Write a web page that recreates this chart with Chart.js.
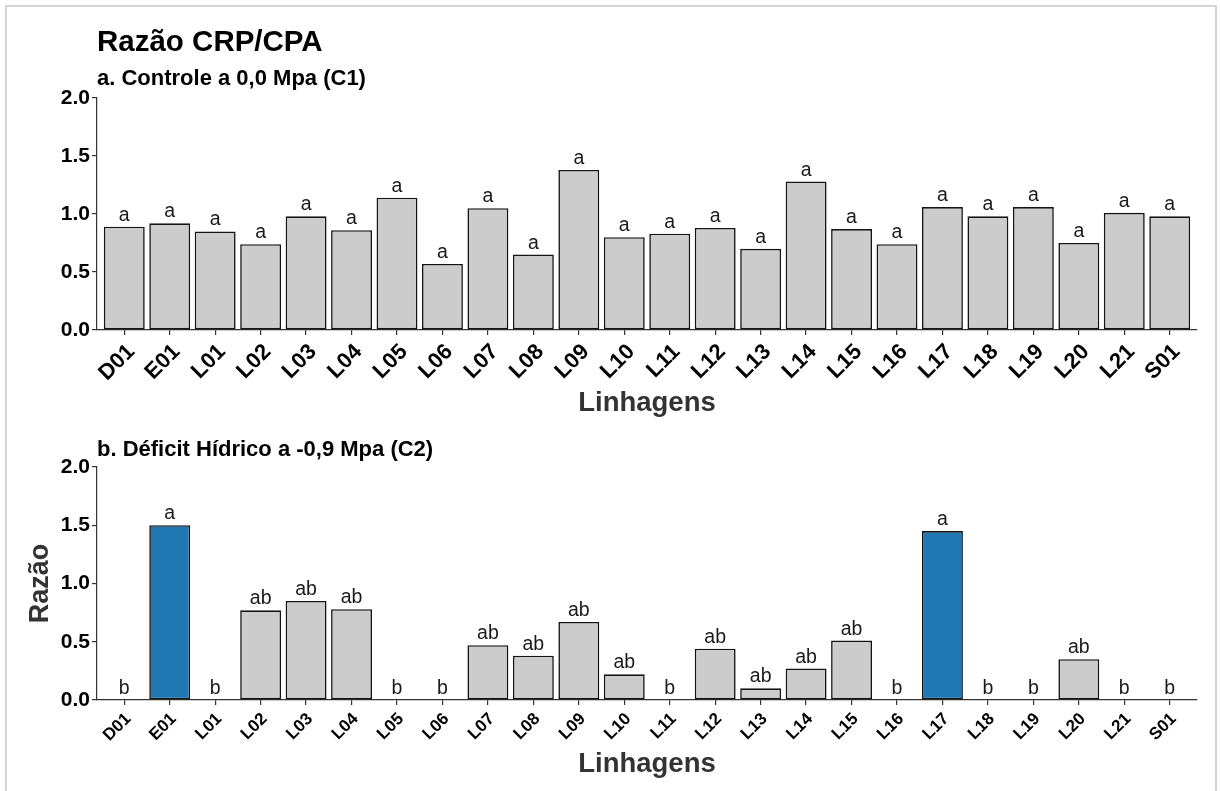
<!DOCTYPE html>
<html>
<head>
<meta charset="utf-8">
<script src="https://cdn.jsdelivr.net/npm/chart.js@4.4.1/dist/chart.umd.min.js"></script>
<style>
  html, body { margin: 0; padding: 0; background: #fff; }
  body { width: 1220px; height: 791px; position: relative; overflow: hidden;
         font-family: "Liberation Sans", Arial, sans-serif; }
  .frame { position: absolute; left: 5px; top: 5px; width: 1212px; height: 820px;
           border: 2px solid #d4d4d4; box-sizing: border-box; }
  .wrap { position: absolute; left: 0; width: 1220px; }
  #w1 { top: 0; height: 420px; }
  #w2 { top: 420px; height: 371px; }
  .txt { position: absolute; left: 97px; font-weight: bold; color: #000;
         white-space: nowrap; line-height: 1; z-index: 2; }
  #t1 { top: 26px; font-size: 29.5px; }
  #s1 { top: 67px; font-size: 22px; }
  #s2 { top: 438px; font-size: 22px; }
</style>
</head>
<body>
<div class="frame"></div>
<div class="wrap" id="w1"><canvas id="c1" width="1220" height="420"></canvas></div>
<div class="wrap" id="w2"><canvas id="c2" width="1220" height="371"></canvas></div>
<div class="txt" id="t1">Razão CRP/CPA</div>
<div class="txt" id="s1">a. Controle a 0,0 Mpa (C1)</div>
<div class="txt" id="s2">b. Déficit Hídrico a -0,9 Mpa (C2)</div>

<script>
// Linhagens avaliadas
const linhagens = ['D01','E01','L01','L02','L03','L04','L05','L06','L07','L08','L09','L10',
                   'L11','L12','L13','L14','L15','L16','L17','L18','L19','L20','L21','S01'];

// Razão CRP/CPA — controle (0,0 MPa)
const razaoC1 = [0.89, 0.92, 0.85, 0.74, 0.98, 0.86, 1.14, 0.57, 1.05, 0.65, 1.38, 0.80,
                 0.83, 0.88, 0.70, 1.28, 0.87, 0.74, 1.06, 0.98, 1.06, 0.75, 1.01, 0.98];
const letrasC1 = ['a','a','a','a','a','a','a','a','a','a','a','a',
                  'a','a','a','a','a','a','a','a','a','a','a','a'];

// Razão CRP/CPA — déficit hídrico (-0,9 MPa)
const razaoC2 = [0.00, 1.50, 0.00, 0.77, 0.85, 0.78, 0.00, 0.00, 0.47, 0.38, 0.67, 0.22,
                 0.00, 0.44, 0.10, 0.27, 0.51, 0.00, 1.45, 0.00, 0.00, 0.35, 0.00, 0.00];
const letrasC2 = ['b','a','b','ab','ab','ab','b','b','ab','ab','ab','ab',
                  'b','ab','ab','ab','ab','b','a','b','b','ab','b','b'];

// Marcas do eixo y
const yTicks = [0.0, 0.5, 1.0, 1.5, 2.0];

const FAMILY = '"Liberation Sans", Arial, sans-serif';
const AXIS = '#333333';
const GREY = '#cccccc';
const BLUE = '#1f77b4';

// Letras do teste de médias acima de cada barra
const letrasPlugin = {
  id: 'letras',
  afterDatasetsDraw(chart, args, opts) {
    const meta = chart.getDatasetMeta(0);
    const ctx = chart.ctx;
    ctx.save();
    ctx.font = `normal ${opts.size}px ${FAMILY}`;
    ctx.fillStyle = '#1a1a1a';
    ctx.textAlign = 'center';
    ctx.textBaseline = 'alphabetic';
    meta.data.forEach((bar, i) => {
      ctx.fillText(opts.letters[i], bar.x, bar.y - opts.gap);
    });
    ctx.restore();
  }
};

function painel(canvasId, valores, letras, cfg) {
  const dados = linhagens.map((_, i) => ({ x: i, y: valores[i] }));
  return new Chart(document.getElementById(canvasId), {
    type: 'bar',
    data: {
      datasets: [{
        data: dados,
        backgroundColor: letras.map(l => (cfg.destaque && l === 'a') ? BLUE : GREY),
        borderColor: '#141414',
        borderWidth: ctx => (ctx.raw && ctx.raw.y > 0 ? 1.6 : 0),
        borderSkipped: false,
        barPercentage: 0.9,
        categoryPercentage: 1.0
      }]
    },
    options: {
      responsive: false,
      animation: false,
      events: [],
      layout: { padding: { left: 0, right: 23, top: cfg.top, bottom: 0 } },
      plugins: {
        legend: { display: false },
        tooltip: { enabled: false },
        letras: { letters: letras, size: 19.5, gap: 6 }
      },
      scales: {
        x: {
          type: 'linear',
          offset: false,
          min: -0.6,
          max: 23.6,
          afterBuildTicks: s => { s.ticks = linhagens.map((_, i) => ({ value: i })); },
          afterFit: s => { s.height = cfg.xH; },
          ticks: {
            autoSkip: false,
            minRotation: 45,
            maxRotation: 45,
            padding: cfg.xPad,
            labelOffset: cfg.xShift,
            color: '#000',
            font: { family: FAMILY, size: cfg.xTick, weight: 'bold' },
            callback: v => linhagens[v]
          },
          grid: { offset: false, drawOnChartArea: false, drawTicks: true, tickLength: 5, color: AXIS, lineWidth: 1.2 },
          border: { display: true, color: AXIS, width: 1.2 },
          title: {
            display: true,
            text: 'Linhagens',
            color: AXIS,
            font: { family: FAMILY, size: 27.5, weight: 'bold' },
            padding: { top: 0, bottom: cfg.xTitlePad }
          }
        },
        y: {
          min: 0,
          max: 2,
          afterBuildTicks: s => { s.ticks = yTicks.map(v => ({ value: v })); },
          afterFit: s => { s.width = 97; },
          ticks: {
            padding: 2,
            color: '#000',
            font: { family: FAMILY, size: 21, weight: 'bold' },
            callback: v => v.toFixed(1)
          },
          grid: { drawOnChartArea: false, drawTicks: true, tickLength: 5, color: AXIS, lineWidth: 1.2 },
          border: { display: true, color: AXIS, width: 1.2 },
          title: {
            display: cfg.yTitle,
            text: 'Razão',
            color: AXIS,
            font: { family: FAMILY, size: 27, weight: 'bold' },
            padding: { top: 24, bottom: 0 }
          }
        }
      }
    },
    plugins: [letrasPlugin]
  });
}

painel('c1', razaoC1, letrasC1, { top: 98, xH: 90, xTick: 22, xPad: 4, xShift: 7, xTitlePad: 0, yTitle: false, destaque: false });
painel('c2', razaoC2, letrasC2, { top: 47, xH: 91, xTick: 17, xPad: 4, xShift: 4, xTitlePad: 10, yTitle: true, destaque: true });
</script>
</body>
</html>
